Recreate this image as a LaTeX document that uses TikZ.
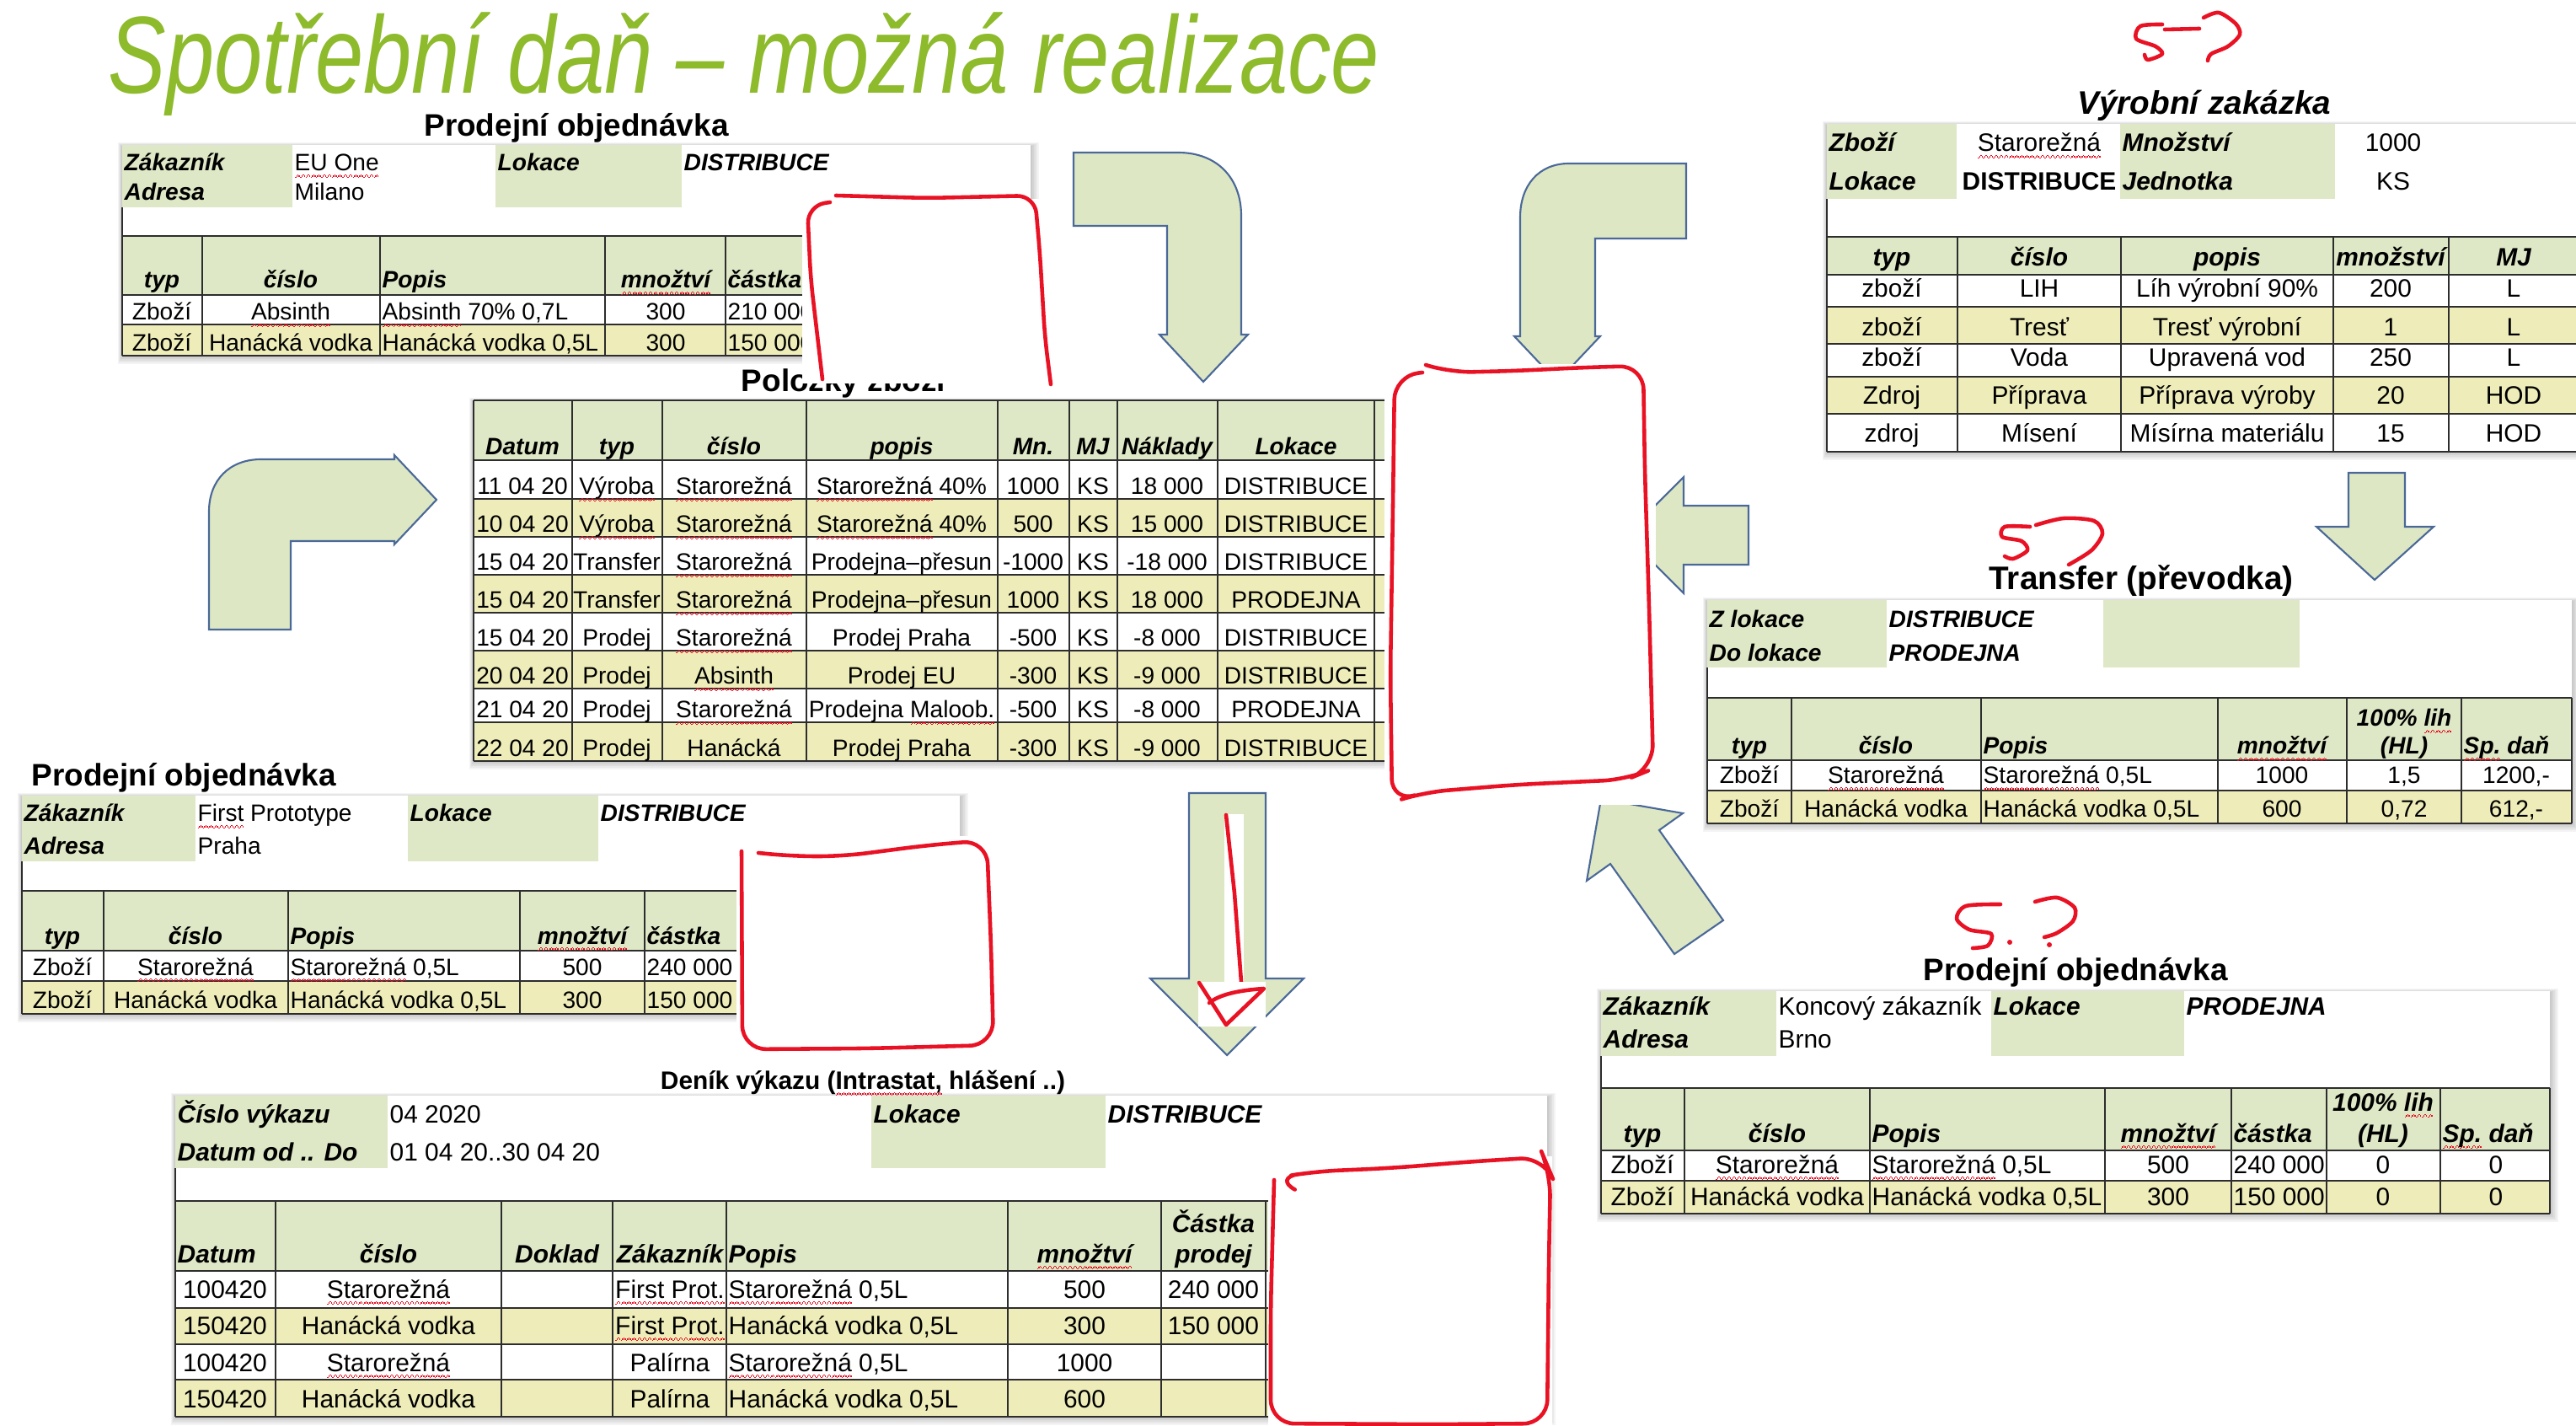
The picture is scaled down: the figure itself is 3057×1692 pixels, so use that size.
\documentclass[tikz,border=0pt]{standalone}
\usepackage{fontspec}
\setmainfont{Liberation Sans}
\newfontfamily\titlefont[FakeStretch=0.79]{Liberation Sans}
\usepackage{xcolor}
\usepackage{tikz}
\usetikzlibrary{positioning}

\definecolor{titlegreen}{RGB}{141,187,44}
\definecolor{hdrgreen}{RGB}{222,232,198}
\definecolor{rowyellow}{RGB}{238,237,186}
\definecolor{arrowfill}{RGB}{221,231,195}
\definecolor{arrowline}{RGB}{74,104,152}
\definecolor{penred}{RGB}{232,18,36}
\definecolor{gridgray}{RGB}{45,45,45}

\newsavebox\spbox
\newcommand\wavebit{\hbox{\rule[-2.3pt]{0.42pt}{0.4pt}\rule[-1.9pt]{0.42pt}{0.4pt}\rule[-1.5pt]{0.42pt}{0.4pt}\rule[-1.9pt]{0.42pt}{0.4pt}}}
\newcommand\spellmark[1]{\sbox\spbox{#1}\rlap{\hbox to \wd\spbox{\color{penred}\xleaders\wavebit\hfill}}\usebox\spbox}
\newcommand\tsz{\fontsize{8}{9.6}\selectfont}
\newcommand\tabshadow[4]{\foreach \s in {1,...,5}{\fill[black,opacity=0.045] (#1-\s,#2-\s+2) rectangle (#3+2*\s,#4+2*\s);}}

\begin{document}
\begin{tikzpicture}[x=0.01cm, y=-0.01cm,
    tx/.style={inner sep=0pt, anchor=base, font=\tsz},
    txl/.style={tx, anchor=base west},
    bx/.style={tx, font=\tsz\bfseries\itshape},
    bxl/.style={bx, anchor=base west},
    ttl/.style={inner sep=0pt, anchor=base, font=\fontsize{10.5}{12}\selectfont\bfseries},
    gridline/.style={draw=gridgray, line width=0.6pt},
    blockarrow/.style={fill=arrowfill, draw=arrowline, line width=0.6pt},
    redpen/.style={draw=penred, line width=1.3pt, line cap=round, line join=round}
]
    \useasboundingbox (0,0) rectangle (3057,1692);
    \clip (0,0) rectangle (3057,1692);
    \fill[white] (0,0) rectangle (3057,1692);

    \node[anchor=base west, inner sep=0pt, text=titlegreen, font=\titlefont\itshape\fontsize{37}{40}\selectfont] (title) at (128,111) {Spotřební daň – možná realizace};

    \draw[blockarrow] (1274,181) -- (1398,181) .. controls (1445,181) and (1473,212) .. (1473,256) -- (1473,397) -- (1481,397) -- (1428,453) -- (1376,397) -- (1385,397) -- (1385,268) -- (1274,268) -- cycle;
    \draw[blockarrow] (2001,194) -- (1862,194) .. controls (1826,194) and (1804,220) .. (1804,258) -- (1804,399) -- (1797,399) -- (1848,453) -- (1899,399) -- (1893,399) -- (1893,283) -- (2001,283) -- cycle;
    \draw[blockarrow] (248,747) -- (248,607) .. controls (248,570) and (272,545) .. (310,545) -- (468,545) -- (468,540) -- (518,593) -- (468,646) -- (468,642) -- (345,642) -- (345,747) -- cycle;
    \draw[blockarrow] (2075,600) -- (1998,600) -- (1998,566) -- (1929,635) -- (1998,704) -- (1998,670) -- (2075,670) -- cycle;
    \draw[blockarrow] (2787,561) -- (2854,561) -- (2854,625) -- (2888,625) -- (2818,688) -- (2749,625) -- (2787,625) -- cycle;
    \draw[blockarrow] (1411,941) -- (1502,941) -- (1502,1161) -- (1547,1161) -- (1456,1252) -- (1365,1161) -- (1411,1161) -- cycle;
    \draw[blockarrow] (1900,948) -- (1997,965) -- (1969,985) -- (2045,1092) -- (1987,1132) -- (1911,1025) -- (1883,1045) -- cycle;

    % Prodejni objednavka EU
    \tabshadow{145}{172}{1223}{422}
    \fill[white] (145,172) rectangle (1223,422);
    \fill[hdrgreen] (145,172) rectangle (347,246);
    \fill[hdrgreen] (588,172) rectangle (809,246);
    \fill[hdrgreen] (145,280) rectangle (1223,350);
    \fill[rowyellow] (145,385) rectangle (1223,422);
    \draw[gridline] (145,246) -- (145,422);
    \foreach \y in {280,350,385,422} \draw[gridline] (145,\y) -- (1223,\y);
    \foreach \x in {240,451,718,861} \draw[gridline] (\x,280) -- (\x,422);
    \node[ttl] (A-t) at (684,162) {Prodejní objednávka};
    \node[bxl] (A-k) at (147,203) {Zákazník};
    \node[txl] (A-kv) at (349,203) {\spellmark{EU One}};
    \node[bxl] (A-l) at (590,203) {Lokace};
    \node[bxl] (A-lv) at (811,203) {DISTRIBUCE};
    \node[bxl] (A-a) at (147,238) {Adresa};
    \node[txl] (A-av) at (349,238) {Milano};
    \node[bx] (A-h1) at (192,342) {typ};
    \node[bx] (A-h2) at (345,342) {číslo};
    \node[bxl] (A-h3) at (453,342) {Popis};
    \node[bx] (A-h4) at (790,342) {\spellmark{množtví}};
    \node[bxl] (A-h5) at (863,342) {částka};
    \node[tx] (A-11) at (192,380) {Zboží};
    \node[tx] (A-12) at (345,380) {\spellmark{Absinth}};
    \node[txl] (A-13) at (453,380) {\spellmark{Absinth} 70\% 0,7L};
    \node[tx] (A-14) at (790,380) {300};
    \node[txl] (A-15) at (863,380) {210 000};
    \node[tx] (A-21) at (192,417) {Zboží};
    \node[tx] (A-22) at (345,417) {Hanácká vodka};
    \node[txl] (A-23) at (453,417) {Hanácká vodka 0,5L};
    \node[tx] (A-24) at (790,417) {300};
    \node[txl] (A-25) at (863,417) {150 000};

    \node[ttl] (B-t) at (1001,465) {Položky zboží};

    \fill[white] (952,236) rectangle (1250,455);
    \draw[redpen, rounded corners=6] (976,450) -- (962,330) -- (958,244) -- (985,240);
    \draw[redpen, rounded corners=6] (992,232) -- (1100,235) -- (1228,232) -- (1234,300) -- (1240,400) -- (1247,456);

    % Polozky zbozi
    \tabshadow{562}{475}{1650}{903}
    \fill[white] (562,475) rectangle (1650,903);
    \fill[hdrgreen] (562,475) rectangle (1650,546);
    \foreach \a/\b in {592/637,682/727,772/817,857/903} \fill[rowyellow] (562,\a) rectangle (1650,\b);
    \foreach \y in {475,546,592,637,682,727,772,817,857,903} \draw[gridline] (562,\y) -- (1650,\y);
    \foreach \x in {562,679,786,957,1184,1269,1326,1445,1631} \draw[gridline] (\x,475) -- (\x,903);
    \node[bx] (B-h1) at (620,540) {Datum};
    \node[bx] (B-h2) at (732,540) {typ};
    \node[bx] (B-h3) at (871,540) {číslo};
    \node[bx] (B-h4) at (1070,540) {popis};
    \node[bx] (B-h5) at (1226,540) {Mn.};
    \node[bx] (B-h6) at (1297,540) {MJ};
    \node[bx] (B-h7) at (1385,540) {Náklady};
    \node[bx] (B-h8) at (1538,540) {Lokace};
    \foreach \ya/\va/\vb/\vc/\vd/\ve/\vf/\vg [count=\n] in {
        587/11 04 20/\spellmark{Výroba}/\spellmark{Starorežná}/\spellmark{Starorežná} 40\%/1000/18 000/DISTRIBUCE,
        632/10 04 20/\spellmark{Výroba}/\spellmark{Starorežná}/\spellmark{Starorežná} 40\%/500/15 000/DISTRIBUCE,
        677/15 04 20/Transfer/\spellmark{Starorežná}/Prodejna–přesun/-1000/-18 000/DISTRIBUCE,
        722/15 04 20/Transfer/\spellmark{Starorežná}/Prodejna–přesun/1000/18 000/PRODEJNA,
        767/15 04 20/Prodej/\spellmark{Starorežná}/Prodej Praha/-500/-8 000/DISTRIBUCE,
        812/20 04 20/Prodej/\spellmark{Absinth}/Prodej EU/-300/-9 000/DISTRIBUCE,
        852/21 04 20/Prodej/\spellmark{Starorežná}/Prodejna \spellmark{Maloob.}/-500/-8 000/PRODEJNA,
        898/22 04 20/Prodej/Hanácká/Prodej Praha/-300/-9 000/DISTRIBUCE}{
        \node[tx] (B-\n-1) at (620,\ya) {\va};
        \node[tx] (B-\n-2) at (732,\ya) {\vb};
        \node[tx] (B-\n-3) at (871,\ya) {\vc};
        \node[tx] (B-\n-4) at (1070,\ya) {\vd};
        \node[tx] (B-\n-5) at (1226,\ya) {\ve};
        \node[tx] (B-\n-6) at (1297,\ya) {KS};
        \node[tx] (B-\n-7) at (1385,\ya) {\vf};
        \node[tx] (B-\n-8) at (1538,\ya) {\vg};
    }

    \fill[white] (1643,432) rectangle (1965,955);
    \draw[redpen, rounded corners=8] (1692,433) -- (1720,442) -- (1800,440) -- (1880,436) -- (1950,434) -- (1952,560) -- (1957,720) -- (1962,912) -- (1930,925) -- (1800,931) -- (1690,940) -- (1652,952) -- (1650,800) -- (1653,600) -- (1655,446) -- (1688,442);

    % Vyrobni zakazka
    \begin{scope}
    \renewcommand\tsz{\fontsize{8.5}{10}\selectfont}
    \tabshadow{2168}{147}{3070}{536}
    \fill[white] (2168,147) rectangle (3070,536);
    \fill[hdrgreen] (2168,147) rectangle (2322,236);
    \fill[hdrgreen] (2516,147) rectangle (2771,236);
    \fill[hdrgreen] (2168,281) rectangle (3070,326);
    \fill[rowyellow] (2168,364) rectangle (3070,408);
    \fill[rowyellow] (2168,447) rectangle (3070,491);
    \draw[gridline] (2168,236) -- (2168,536);
    \foreach \y in {281,326,364,408,447,491,536} \draw[gridline] (2168,\y) -- (3070,\y);
    \foreach \x in {2323,2517,2769,2906} \draw[gridline] (\x,281) -- (\x,536);
    \node[ttl, font=\fontsize{11}{13}\selectfont\bfseries\itshape] (C-t) at (2616,136) {Výrobní zakázka};
    \node[bxl] (C-z) at (2170,180) {Zboží};
    \node[tx] (C-zv) at (2420,180) {\spellmark{Starorežná}};
    \node[bxl] (C-m) at (2518,180) {Množství};
    \node[tx] (C-mv) at (2840,180) {1000};
    \node[bxl] (C-l) at (2170,226) {Lokace};
    \node[txl, font=\tsz\bfseries] (C-lv) at (2328,226) {DISTRIBUCE};
    \node[bxl] (C-j) at (2518,226) {Jednotka};
    \node[tx] (C-jv) at (2840,226) {KS};
    \node[bx] (C-h1) at (2245,316) {typ};
    \node[bx] (C-h2) at (2420,316) {číslo};
    \node[bx] (C-h3) at (2643,316) {popis};
    \node[bx] (C-h4) at (2837,316) {množství};
    \node[bx] (C-h5) at (2983,316) {MJ};
    \foreach \ya/\va/\vb/\vc/\vd/\ve [count=\n] in {353/zboží/LIH/Líh výrobní 90\%/200/L, 399/zboží/Tresť/Tresť výrobní/1/L, 435/zboží/Voda/Upravená vod/250/L, 480/Zdroj/Příprava/Příprava výroby/20/HOD, 525/zdroj/Mísení/Mísírna materiálu/15/HOD}{
        \node[tx] (C-\n-1) at (2245,\ya) {\va};
        \node[tx] (C-\n-2) at (2420,\ya) {\vb};
        \node[tx] (C-\n-3) at (2643,\ya) {\vc};
        \node[tx] (C-\n-4) at (2837,\ya) {\vd};
        \node[tx] (C-\n-5) at (2983,\ya) {\ve};
    }
    \end{scope}
    \draw[redpen] plot[smooth] coordinates {(2566,29) (2540,31) (2535,46) (2558,55) (2566,64) (2549,71) (2545,65)};
    \draw[redpen] (2569,35) -- (2610,34);
    \draw[redpen] plot[smooth] coordinates {(2615,21) (2633,15) (2653,28) (2658,41) (2644,55) (2624,64) (2620,72)};

    % Transfer
    \tabshadow{2026}{712}{3052}{977}
    \fill[white] (2026,712) rectangle (3052,977);
    \fill[hdrgreen] (2026,712) rectangle (2239,792);
    \fill[hdrgreen] (2496,712) rectangle (2729,792);
    \fill[hdrgreen] (2026,828) rectangle (3052,902);
    \fill[rowyellow] (2026,938) rectangle (3052,977);
    \draw[gridline] (2026,792) -- (2026,977);
    \foreach \y in {828,902,938,977} \draw[gridline] (2026,\y) -- (3052,\y);
    \foreach \x in {2126,2351,2632,2785,2921,3052} \draw[gridline] (\x,828) -- (\x,977);
    \node[ttl, font=\fontsize{11}{13}\selectfont\bfseries] (D-t) at (2541,700) {Transfer (převodka)};
    \node[bxl] (D-z) at (2028,745) {Z lokace};
    \node[bxl] (D-zv) at (2241,745) {DISTRIBUCE};
    \node[bxl] (D-d) at (2028,785) {Do lokace};
    \node[bxl] (D-dv) at (2241,785) {PRODEJNA};
    \node[bx] (D-h1) at (2076,895) {typ};
    \node[bx] (D-h2) at (2238,895) {číslo};
    \node[bxl] (D-h3) at (2353,895) {Popis};
    \node[bx] (D-h4) at (2708,895) {\spellmark{množtví}};
    \node[bx] (D-h5a) at (2853,862) {100\% \spellmark{lih}};
    \node[bx] (D-h5b) at (2853,895) {(HL)};
    \node[bxl] (D-h6) at (2923,895) {\spellmark{Sp.} daň};
    \node[tx] (D-11) at (2076,930) {Zboží};
    \node[tx] (D-12) at (2238,930) {\spellmark{Starorežná}};
    \node[txl] (D-13) at (2353,930) {\spellmark{Starorežná} 0,5L};
    \node[tx] (D-14) at (2708,930) {1000};
    \node[tx] (D-15) at (2853,930) {1,5};
    \node[tx] (D-16) at (2986,930) {1200,-};
    \node[tx] (D-21) at (2076,970) {Zboží};
    \node[tx] (D-22) at (2238,970) {Hanácká vodka};
    \node[txl] (D-23) at (2353,970) {Hanácká vodka 0,5L};
    \node[tx] (D-24) at (2708,970) {600};
    \node[tx] (D-25) at (2853,970) {0,72};
    \node[tx] (D-26) at (2986,970) {612,-};
    \draw[redpen] plot[smooth] coordinates {(2409,625) (2379,625) (2376,637) (2399,642) (2406,653) (2389,663) (2379,660)};
    \draw[redpen] plot[smooth] coordinates {(2416,623) (2449,615) (2485,618) (2495,633) (2482,653) (2455,670)};

    % Prodejni objednavka Praha
    \tabshadow{26}{944}{1139}{1203}
    \fill[white] (26,944) rectangle (1139,1203);
    \fill[hdrgreen] (26,944) rectangle (232,1022);
    \fill[hdrgreen] (484,944) rectangle (710,1022);
    \fill[hdrgreen] (26,1057) rectangle (1139,1128);
    \fill[rowyellow] (26,1164) rectangle (1139,1203);
    \draw[gridline] (26,1022) -- (26,1203);
    \foreach \y in {1057,1128,1164,1203} \draw[gridline] (26,\y) -- (1139,\y);
    \foreach \x in {123,342,617,765} \draw[gridline] (\x,1057) -- (\x,1203);
    \node[ttl, anchor=base west] (E-t) at (37,933) {Prodejní objednávka};
    \node[bxl] (E-k) at (28,975) {Zákazník};
    \node[txl] (E-kv) at (234,975) {\spellmark{First} Prototype};
    \node[bxl] (E-l) at (486,975) {Lokace};
    \node[bxl] (E-lv) at (712,975) {DISTRIBUCE};
    \node[bxl] (E-a) at (28,1014) {Adresa};
    \node[txl] (E-av) at (234,1014) {Praha};
    \node[bx] (E-h1) at (74,1120) {typ};
    \node[bx] (E-h2) at (232,1120) {číslo};
    \node[bxl] (E-h3) at (344,1120) {Popis};
    \node[bx] (E-h4) at (691,1120) {\spellmark{množtví}};
    \node[bxl] (E-h5) at (767,1120) {částka};
    \node[tx] (E-11) at (74,1157) {Zboží};
    \node[tx] (E-12) at (232,1157) {\spellmark{Starorežná}};
    \node[txl] (E-13) at (344,1157) {\spellmark{Starorežná} 0,5L};
    \node[tx] (E-14) at (691,1157) {500};
    \node[txl] (E-15) at (767,1157) {240 000};
    \node[tx] (E-21) at (74,1196) {Zboží};
    \node[tx] (E-22) at (232,1196) {Hanácká vodka};
    \node[txl] (E-23) at (344,1196) {Hanácká vodka 0,5L};
    \node[tx] (E-24) at (691,1196) {300};
    \node[txl] (E-25) at (767,1196) {150 000};

    \fill[white] (874,992) rectangle (1184,1250);
    \draw[redpen, rounded corners=8] (900,1012) -- (940,1016) -- (1000,1016) -- (1100,1003) -- (1171,997) -- (1176,1120) -- (1179,1240) -- (1030,1244) -- (881,1245) -- (880,1010);

    % Prodejni objednavka Brno
    \begin{scope}
    \renewcommand\tsz{\fontsize{8.5}{10}\selectfont}
    \tabshadow{1900}{1176}{3026}{1440}
    \fill[white] (1900,1176) rectangle (3026,1440);
    \fill[hdrgreen] (1900,1176) rectangle (2108,1253);
    \fill[hdrgreen] (2363,1176) rectangle (2592,1253);
    \fill[hdrgreen] (1900,1291) rectangle (3026,1365);
    \fill[rowyellow] (1900,1401) rectangle (3026,1440);
    \draw[gridline] (1900,1253) -- (1900,1440);
    \foreach \y in {1291,1365,1401,1440} \draw[gridline] (1900,\y) -- (3026,\y);
    \foreach \x in {1999,2219,2498,2648,2761,2896,3026} \draw[gridline] (\x,1291) -- (\x,1440);
    \node[ttl] (F-t) at (2463,1163) {Prodejní objednávka};
    \node[bxl] (F-k) at (1902,1204) {Zákazník};
    \node[txl] (F-kv) at (2110,1204) {Koncový zákazník};
    \node[bxl] (F-l) at (2365,1204) {Lokace};
    \node[bxl] (F-lv) at (2594,1204) {PRODEJNA};
    \node[bxl] (F-a) at (1902,1243) {Adresa};
    \node[txl] (F-av) at (2110,1243) {Brno};
    \node[bx] (F-h1) at (1949,1355) {typ};
    \node[bx] (F-h2) at (2109,1355) {číslo};
    \node[bxl] (F-h3) at (2221,1355) {Popis};
    \node[bx] (F-h4) at (2573,1355) {\spellmark{množtví}};
    \node[bxl] (F-h5) at (2650,1355) {částka};
    \node[bx] (F-h6a) at (2828,1318) {100\% \spellmark{lih}};
    \node[bx] (F-h6b) at (2828,1355) {(HL)};
    \node[bxl] (F-h7) at (2898,1355) {\spellmark{Sp.} daň};
    \node[tx] (F-11) at (1949,1392) {Zboží};
    \node[tx] (F-12) at (2109,1392) {\spellmark{Starorežná}};
    \node[txl] (F-13) at (2221,1392) {\spellmark{Starorežná} 0,5L};
    \node[tx] (F-14) at (2573,1392) {500};
    \node[txl] (F-15) at (2650,1392) {240 000};
    \node[tx] (F-16) at (2828,1392) {0};
    \node[tx] (F-17) at (2962,1392) {0};
    \node[tx] (F-21) at (1949,1430) {Zboží};
    \node[tx] (F-22) at (2109,1430) {Hanácká vodka};
    \node[txl] (F-23) at (2221,1430) {Hanácká vodka 0,5L};
    \node[tx] (F-24) at (2573,1430) {300};
    \node[txl] (F-25) at (2650,1430) {150 000};
    \node[tx] (F-26) at (2828,1430) {0};
    \node[tx] (F-27) at (2962,1430) {0};
    \end{scope}
    \draw[redpen] plot[smooth] coordinates {(2374,1073) (2333,1075) (2322,1090) (2337,1103) (2363,1108) (2359,1122) (2341,1125)};
    \fill[penred] (2385,1118) circle (3);
    \draw[redpen] plot[smooth] coordinates {(2415,1070) (2441,1065) (2462,1077) (2460,1093) (2441,1107) (2426,1112)};
    \fill[penred] (2432,1121) circle (3);

    % Denik vykazu
    \begin{scope}
    \renewcommand\tsz{\fontsize{8.5}{10}\selectfont}
    \tabshadow{208}{1300}{1836}{1681}
    \fill[white] (208,1300) rectangle (1836,1681);
    \fill[hdrgreen] (208,1300) rectangle (460,1386);
    \fill[hdrgreen] (1034,1300) rectangle (1312,1386);
    \fill[hdrgreen] (208,1425) rectangle (1836,1508);
    \fill[rowyellow] (208,1552) rectangle (1836,1595);
    \fill[rowyellow] (208,1637) rectangle (1836,1681);
    \draw[gridline] (208,1386) -- (208,1681);
    \foreach \y in {1425,1508,1552,1595,1637,1681} \draw[gridline] (208,\y) -- (1836,\y);
    \foreach \x in {327,595,727,862,1196,1378,1502} \draw[gridline] (\x,1425) -- (\x,1681);
    \node[ttl, font=\tsz\bfseries] (G-t) at (1024,1292) {Deník výkazu (\spellmark{Intrastat,} hlášení ..)};
    \node[bxl] (G-c) at (210,1332) {Číslo výkazu};
    \node[txl] (G-cv) at (462,1332) {04 2020};
    \node[bxl] (G-l) at (1036,1332) {Lokace};
    \node[bxl] (G-lv) at (1314,1332) {DISTRIBUCE};
    \node[bxl] (G-d) at (210,1377) {Datum od .. Do};
    \node[txl] (G-dv) at (462,1377) {01 04 20..30 04 20};
    \node[bxl] (G-h1) at (210,1498) {Datum};
    \node[bx] (G-h2) at (461,1498) {číslo};
    \node[bx] (G-h3) at (661,1498) {Doklad};
    \node[bx] (G-h4) at (795,1498) {Zákazník};
    \node[bxl] (G-h5) at (864,1498) {Popis};
    \node[bx] (G-h6) at (1287,1498) {\spellmark{množtví}};
    \node[bx] (G-h7a) at (1440,1462) {Částka};
    \node[bx] (G-h7b) at (1440,1498) {prodej};
    \node[tx] (G-11) at (267,1540) {100420};
    \node[tx] (G-12) at (461,1540) {\spellmark{Starorežná}};
    \node[tx] (G-14) at (795,1540) {\spellmark{First Prot.}};
    \node[txl] (G-15) at (864,1540) {\spellmark{Starorežná} 0,5L};
    \node[tx] (G-16) at (1287,1540) {500};
    \node[tx] (G-17) at (1440,1540) {240 000};
    \node[tx] (G-21) at (267,1583) {150420};
    \node[tx] (G-22) at (461,1583) {Hanácká vodka};
    \node[tx] (G-24) at (795,1583) {\spellmark{First Prot.}};
    \node[txl] (G-25) at (864,1583) {Hanácká vodka 0,5L};
    \node[tx] (G-26) at (1287,1583) {300};
    \node[tx] (G-27) at (1440,1583) {150 000};
    \node[tx] (G-31) at (267,1627) {100420};
    \node[tx] (G-32) at (461,1627) {\spellmark{Starorežná}};
    \node[tx] (G-34) at (795,1627) {Palírna};
    \node[txl] (G-35) at (864,1627) {\spellmark{Starorežná} 0,5L};
    \node[tx] (G-36) at (1287,1627) {1000};
    \node[tx] (G-41) at (267,1670) {150420};
    \node[tx] (G-42) at (461,1670) {Hanácká vodka};
    \node[tx] (G-44) at (795,1670) {Palírna};
    \node[txl] (G-45) at (864,1670) {Hanácká vodka 0,5L};
    \node[tx] (G-46) at (1287,1670) {600};
    \end{scope}

    \fill[white] (1505,1372) rectangle (1842,1692);
    \draw[redpen, rounded corners=8] (1534,1410) -- (1512,1398) -- (1560,1390) -- (1650,1386) -- (1750,1378) -- (1832,1373) -- (1840,1392) -- (1838,1500) -- (1836,1689) -- (1700,1690) -- (1508,1689) -- (1508,1550) -- (1512,1400);

    \fill[white] (1453,966) rectangle (1476,1165);
    \draw[redpen] (1455,967) -- (1465,1060) -- (1473,1165);
    \fill[white] (1422,1165) rectangle (1502,1218);
    \draw[redpen] (1423,1166) -- (1455,1216) -- (1500,1173) .. controls (1470,1175) and (1447,1180) .. (1435,1190);
\end{tikzpicture}
\end{document}
